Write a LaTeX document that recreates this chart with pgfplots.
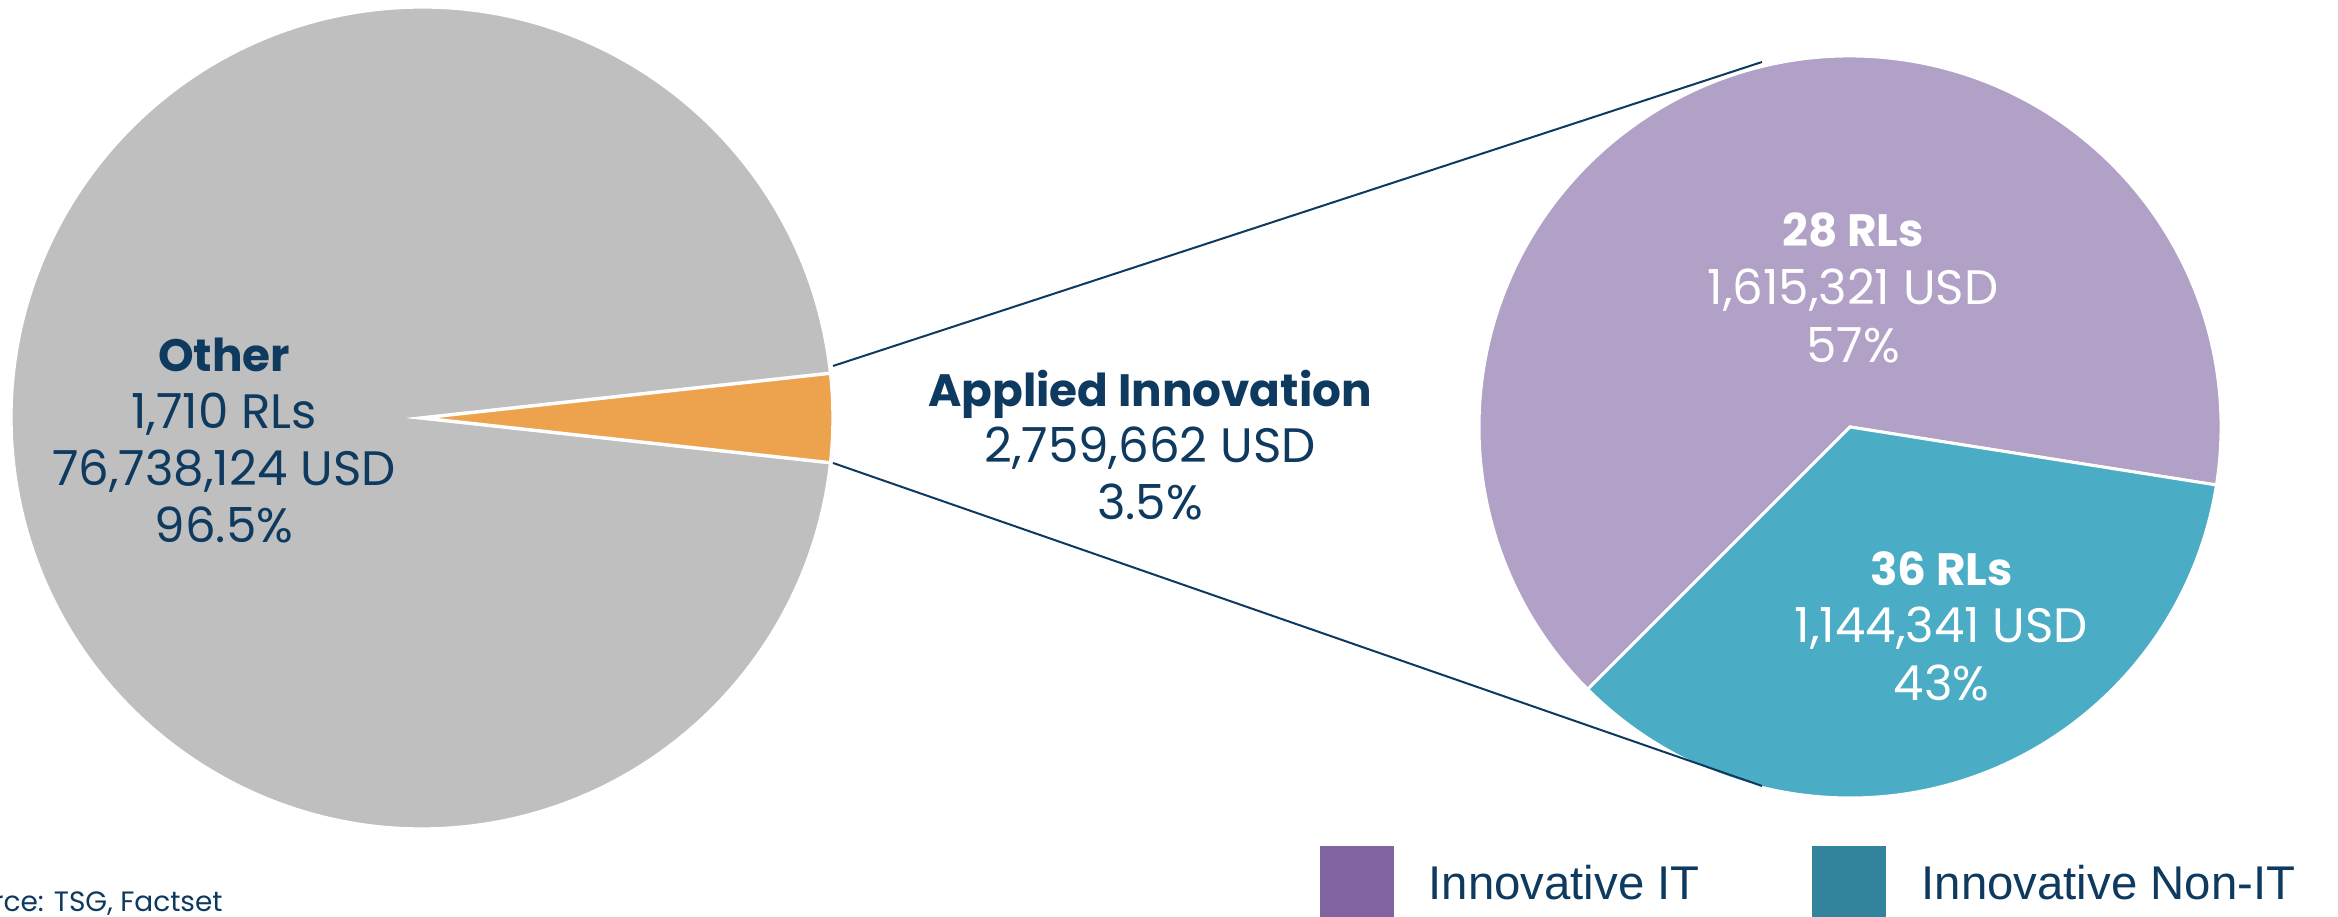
\documentclass[border=0pt]{standalone}
\usepackage{fontspec}
\setmainfont{Poppins}
\newfontfamily\legfont{Liberation Sans}
\usepackage{pgfplots}
\usepackage{pgfplotstable}
\pgfplotsset{compat=1.18}

\definecolor{navy}{HTML}{0E3A60}
\definecolor{pieGray}{HTML}{BFBFBF}
\definecolor{pieOrange}{HTML}{EDA24E}
\definecolor{piePurple}{HTML}{B1A1C7}
\definecolor{pieTeal}{HTML}{4BACC6}
\definecolor{legPurple}{HTML}{8064A2}
\definecolor{legTeal}{HTML}{31849B}

% left pie: USD millions
\pgfplotstableread{
name value
Other 76.738124
Applied 2.759662
}\leftpie
% right pie: shares as drawn in the picture (percent)
\pgfplotstableread{
name share
NonIT 35
IT 65
}\rightpie

\begin{document}
\begin{tikzpicture}
\pgfplotstablegetelem{0}{value}\of\leftpie \let\vOther\pgfplotsretval
\pgfplotstablegetelem{1}{value}\of\leftpie \let\vApp\pgfplotsretval
\pgfmathsetmacro\halfA{180*\vApp/(\vOther+\vApp)}
\pgfmathsetmacro\endA{360-\halfA}
\pgfplotstablegetelem{0}{share}\of\rightpie \let\sNon\pgfplotsretval
\def\tealStart{-135}
\pgfmathsetmacro\tealEnd{\tealStart+3.6*\sNon}
\pgfmathsetmacro\purpEnd{\tealStart+360}
\begin{axis}[
  hide axis, scale only axis, clip=false,
  x=1pt, y=1pt,
  xmin=0, xmax=701.4, ymin=0, ymax=275.1,
]
% left pie
\fill[pieGray, draw=white, line width=1pt] (axis cs:126.6,149.7) -- ++(\halfA:123.3pt)
   arc[start angle=\halfA, end angle=\endA, radius=123.3pt] -- cycle;
\fill[pieOrange, draw=white, line width=1pt] (axis cs:126.6,149.7) -- ++(-\halfA:123.3pt)
   arc[start angle=-\halfA, end angle=\halfA, radius=123.3pt] -- cycle;
% right pie
\fill[piePurple, draw=white, line width=0.9pt] (axis cs:555,147) -- ++(\tealEnd:111.3pt)
   arc[start angle=\tealEnd, end angle=\purpEnd, radius=111.3pt] -- cycle;
\fill[pieTeal, draw=white, line width=0.9pt] (axis cs:555,147) -- ++(\tealStart:111.3pt)
   arc[start angle=\tealStart, end angle=\tealEnd, radius=111.3pt] -- cycle;
% connector lines
\addplot[navy, line width=0.6pt, mark=none] coordinates {(249.9,165.3) (528.6,256.5)};
\addplot[navy, line width=0.6pt, mark=none] coordinates {(249.9,136.2) (528.6,39.3)};

% labels
\tikzset{lab/.style={anchor=base, inner sep=0pt, font=\fontsize{14.5}{17}\selectfont},
         blab/.style={anchor=base, inner sep=0pt, font=\fontsize{13.6}{17}\selectfont\bfseries}}
\node[blab, text=navy] at (axis cs:67.2,163.5) {Other};
\node[lab, text=navy] at (axis cs:67.2,146.4) {1,710 RLs};
\node[lab, text=navy] at (axis cs:67.2,129.3) {76,738,124 USD};
\node[lab, text=navy] at (axis cs:67.2,112.2) {96.5\%};

\node[blab, text=navy] at (axis cs:345,153) {Applied Innovation};
\node[lab, text=navy] at (axis cs:345,136.2) {2,759,662 USD};
\node[lab, text=navy] at (axis cs:345,119.1) {3.5\%};

\node[blab, text=white] at (axis cs:555.9,201) {28 RLs};
\node[lab, text=white] at (axis cs:555.9,183.6) {1,615,321 USD};
\node[lab, text=white] at (axis cs:555.9,166.2) {57\%};

\node[blab, text=white] at (axis cs:582.45,99.3) {36 RLs};
\node[lab, text=white] at (axis cs:582.45,82.2) {1,144,341 USD};
\node[lab, text=white] at (axis cs:582.45,64.8) {43\%};

% legend
\fill[legPurple] (axis cs:396,0) rectangle (axis cs:418.2,21.3);
\fill[legTeal] (axis cs:543.6,0) rectangle (axis cs:565.8,21.3);
\node[anchor=base west, inner sep=0pt, text=navy, font=\legfont\fontsize{14.2}{17}\selectfont] at (axis cs:428.4,5.1) {Innovative IT};
\node[anchor=base west, inner sep=0pt, text=navy, font=\legfont\fontsize{14.2}{17}\selectfont] at (axis cs:576.3,5.1) {Innovative Non-IT};

% source (cut at the left edge, as in the reference)
\node[anchor=base east, inner sep=0pt, text=navy, font=\fontsize{8.4}{10}\selectfont] at (axis cs:67,1.5) {Source: TSG, Factset};
\end{axis}
\pgfresetboundingbox
\useasboundingbox (0,0) rectangle (701.4pt,275.1pt);
\end{tikzpicture}
\end{document}
